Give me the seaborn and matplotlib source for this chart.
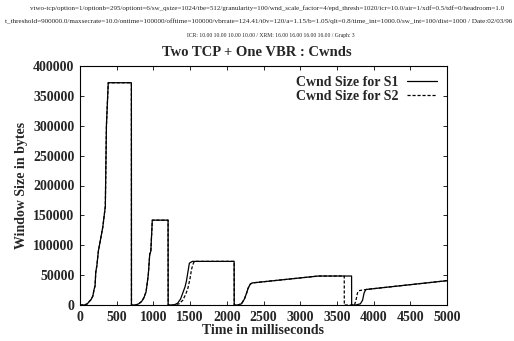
import matplotlib
matplotlib.use("Agg")
import matplotlib.pyplot as plt
import seaborn as sns
import pandas as pd

header1 = "vtwo-tcp/option=1/optionb=295/optiont=6/sw_qsize=1024/tbe=512/granularity=100/wnd_scale_factor=4/epd_thresh=1020/icr=10.0/air=1/xdf=0.5/tdf=0/headroom=1.0"
header2 = "t_threshold=900000.0/maxsecrate=10.0/ontime=100000/offtime=100000/vbrrate=124.41/t0v=120/a=1.15/b=1.05/qlt=0.8/time_int=1000.0/sw_int=100/dist=1000 / Date:02/03/96"
header3 = "ICR: 10.00 10.00 10.00 10.00 / XRM: 16.00 16.00 16.00 16.00 / Graph: 3"
title = "Two TCP + One VBR : Cwnds"
xlabel = "Time in milliseconds"
ylabel = "Window Size in bytes"
labels = ["Cwnd Size for S1", "Cwnd Size for S2"]

s1_t = [0, 60, 100, 120, 150, 175, 190, 205, 215, 230, 250, 280, 310, 335, 345, 360, 385, 700, 701,
        760, 800, 840, 870, 900, 930, 950, 965, 985, 1200, 1201,
        1280, 1330, 1370, 1400, 1430, 1450, 1470, 1490, 1530, 2100, 2101,
        2150, 2200, 2240, 2270, 2290, 2320, 2350, 3250, 3700, 3701,
        3760, 3820, 3850, 3870, 3890, 3900, 5000]
s1_w = [0, 0, 2000, 5000, 9000, 15000, 25000, 32000, 55000, 66000, 90000, 110000, 130000, 155000, 165000, 300000, 372000, 372000, 0,
        0, 2000, 6000, 12000, 22000, 50000, 85000, 90000, 142000, 142000, 0,
        0, 3000, 10000, 20000, 30000, 40000, 55000, 70000, 73000, 73000, 0,
        0, 2000, 10000, 20000, 28000, 35000, 37000, 48500, 48500, 0,
        0, 2000, 8000, 20000, 25000, 26000, 40700]

s2_t = [0, 60, 100, 120, 150, 175, 190, 205, 215, 230, 250, 280, 310, 335, 345, 360, 385, 700, 701,
        760, 800, 840, 870, 900, 930, 950, 965, 985, 1200, 1201,
        1280, 1350, 1400, 1440, 1470, 1500, 1520, 1545, 1560, 2100, 2101,
        2150, 2200, 2240, 2270, 2290, 2320, 2350, 3250, 3600, 3601,
        3740, 3760, 3780, 3800, 3900, 5000]
s2_w = [0, 0, 2000, 5000, 9000, 15000, 25000, 32000, 55000, 66000, 90000, 110000, 130000, 155000, 165000, 300000, 372000, 372000, 0,
        0, 2000, 6000, 12000, 22000, 50000, 85000, 90000, 142000, 142000, 0,
        0, 2000, 8000, 18000, 28000, 45000, 60000, 70000, 73000, 73000, 0,
        0, 2000, 10000, 20000, 28000, 35000, 37000, 48500, 48500, 0,
        0, 8000, 20000, 24000, 26000, 40700]

sns.set_style("ticks")
plt.rcParams["font.family"] = ["Liberation Serif", "DejaVu Serif"]
plt.rcParams["font.weight"] = "bold"

fig = plt.figure(figsize=(5.14, 3.41), dpi=100)
ax = fig.add_axes([80/514, 1-305/341, 367/514, 239/341])

df1 = pd.DataFrame({"t": s1_t, "w": s1_w})
df2 = pd.DataFrame({"t": s2_t, "w": s2_w})
sns.lineplot(data=df1, x="t", y="w", sort=False, estimator=None, ax=ax,
             color="black", linewidth=0.9, label=labels[0])
sns.lineplot(data=df2, x="t", y="w", sort=False, estimator=None, ax=ax,
             color="black", linewidth=0.9, linestyle=(0, (2.5, 1.5)), label=labels[1])

ax.set_xlim(0, 5000)
ax.set_ylim(0, 400000)
ax.set_xticks(range(0, 5001, 500))
ax.set_yticks(range(0, 400001, 50000))
ax.tick_params(direction="in", top=True, right=True, length=3, width=0.7, labelsize=10, pad=4)
for lbl in ax.get_xticklabels() + ax.get_yticklabels():
    lbl.set_fontweight("bold")
for sp in ax.spines.values():
    sp.set_linewidth(0.8)
    sp.set_color("black")

ax.set_xlabel(xlabel, fontsize=10, fontweight="bold", labelpad=0)
ax.set_ylabel(ylabel, fontsize=10, fontweight="bold", labelpad=4)

leg = ax.legend(loc="upper right", frameon=False, markerfirst=False, fontsize=10,
                handlelength=2.2, borderaxespad=0.3, labelspacing=0.1, handletextpad=0.6)
for t in leg.get_texts():
    t.set_fontweight("bold")

fig.text(257/514, 1-53/341, title, ha="center", va="center", fontsize=10.5, fontweight="bold")
fig.text(267/514, 1-8/341, header1, ha="center", va="center", fontsize=5.0, fontweight="normal", color="#222222")
fig.text(512/514, 1-21/341, header2, ha="right", va="center", fontsize=5.1, fontweight="normal", color="#222222")
fig.text(271/514, 1-35/341, header3, ha="center", va="center", fontsize=4.1, fontweight="normal", color="#222222")

fig.savefig("out.png", dpi=100)
